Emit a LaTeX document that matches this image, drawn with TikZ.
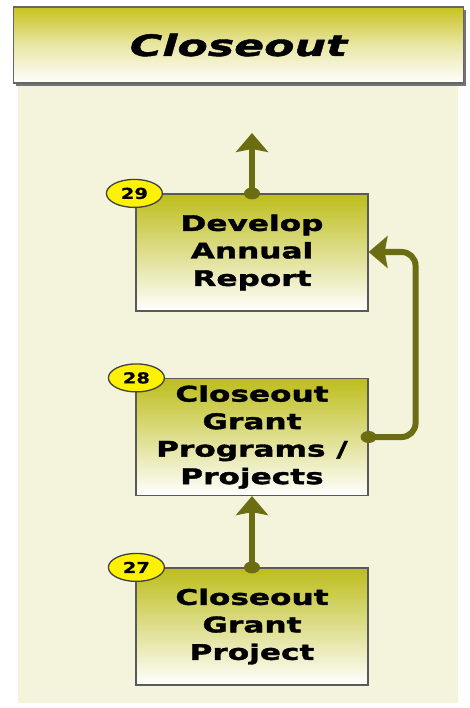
\documentclass[tikz,border=0pt]{standalone}
\usepackage{fontspec}
\usetikzlibrary{arrows.meta,shapes.geometric}
\newfontfamily\boxfont[FakeStretch=1.45,FakeBold=1.6]{DejaVu Sans Bold}
\newfontfamily\titlefont[FakeStretch=1.5,FakeBold=1.4]{DejaVu Sans Bold Oblique}
\newfontfamily\numfont[FakeStretch=1.3,FakeBold=0.6]{DejaVu Sans Bold}
\definecolor{panel}{HTML}{F4F4DC}
\definecolor{olive}{HTML}{6C6C12}
\definecolor{boxtop}{HTML}{BDBD1C}
\definecolor{titletop}{HTML}{C8C21E}
\definecolor{badge}{HTML}{FFF200}
\tikzset{
  stepbox/.style={draw=black!65, line width=1.2pt, minimum width=232pt, minimum height=117pt,
    inner sep=0pt, align=center, top color=boxtop, bottom color=white, middle color=boxtop!50!white,
    font=\boxfont\fontsize{21.5}{27.5}\selectfont},
  badgenode/.style={ellipse, draw=black!75, line width=1.3pt, fill=badge, minimum width=56pt,
    minimum height=28pt, inner sep=0pt, font=\numfont\fontsize{15}{15}\selectfont},
  conn/.style={draw=olive, line width=6pt, -{Stealth[length=19pt,width=32pt,inset=3pt]}},
  dotmark/.style={fill=olive}
}
\begin{document}
\begin{tikzpicture}[x=1pt,y=-1pt]
\useasboundingbox (0,0) rectangle (469,708);
\fill[white] (0,0) rectangle (469,708);
% panel
\fill[panel] (18,84) rectangle (458,703);
% title
\fill[black!55] (16,10) rectangle (466,86);
\node[draw=black!60, line width=1.5pt, minimum width=450pt, minimum height=76pt, inner sep=0pt,
  top color=titletop, bottom color=white, middle color=titletop!40!white,
  font=\titlefont\fontsize{29.5}{32}\selectfont] (title) at (238.5,45) {Closeout};
% boxes
\node[stepbox] (b29) at (252,252.5) {Develop\\Annual\\Report};
\node[stepbox] (b28) at (252,437) {Closeout\\Grant\\Programs /\\Projects};
\node[stepbox] (b27) at (252,626.5) {Closeout\\Grant\\Project};
% badges
\node[badgenode] (n29) at ([xshift=-1pt]b29.north west) {29};
\node[badgenode] (n28) at ([xshift=1pt]b28.north west) {28};
\node[badgenode] (n27) at ([xshift=1pt]b27.north west) {27};
% connectors
\coordinate (out29) at (252,133);
\draw[conn] (b29.north) -- (out29);
\draw[conn] (b27.north) -- (b28.south);
\draw[conn, rounded corners=14pt] (b28.east) -- ++(47,0) |- ([yshift=0.5pt]b29.east);
% dots
\fill[dotmark] (b29.north) ellipse (8pt and 6pt);
\fill[dotmark] (b27.north) ellipse (8pt and 6pt);
\fill[dotmark] (b28.east) ellipse (8pt and 6pt);
\end{tikzpicture}
\end{document}
